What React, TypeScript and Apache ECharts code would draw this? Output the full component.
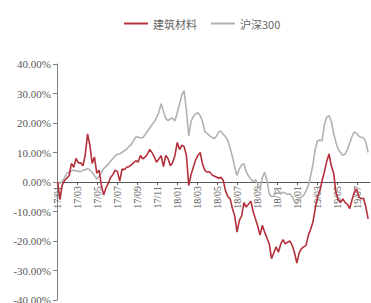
import React, { useEffect, useRef } from "react";
import * as echarts from "echarts";

// Weekly observations starting 2017-01-03
const startDate = "2017-01-03";
const seriesNames = ["建筑材料", "沪深300"];

const buildingMaterials = [
  0, -6, -1, 0.5, 1.3, 2.2, 6.3, 5, 8, 6.5,
  6.5, 5.5, 9.2, 16.3, 12.5, 6.3, 8.5, 3, 4, -1,
  -4.4, -2, -0.5, 1.5, 2.5, 4, 3.5, 0.3, 4.4, 4.2,
  5, 5.2, 5.8, 6.5, 7.2, 6.8, 9, 7.8, 8.4, 9.4,
  11, 10, 8.5, 6.7, 7.8, 8.9, 5.2, 9, 8, 5.5,
  6.5, 9, 13.4, 11, 12.5, 12, 8.9, -1.2, 2.5, 5,
  7.5, 9, 10, 6, 4, 3.3, 3.5, 2.5, 2, 1.7,
  1.3, 1.6, 0.5, -3, -5, -5.7, -9, -11.5, -17, -13,
  -11.5, -7, -8.5, -7.5, -6.5, -10, -12.5, -15, -18, -14.7,
  -17, -19, -21, -26, -24, -22, -23.8, -21, -19.5, -21,
  -20.4, -20, -21.5, -24, -27.5, -24, -22.6, -22, -21.5, -18.1,
  -16, -13.6, -9, -5, -3, 0.5, 3.5, 7, 9.5, 5.5,
  3, -3.5, -6, -6.9, -5.7, -7, -7.5, -9, -6, -3.5,
  -2.4, -5, -5.7, -5.5, -8.5, -12.5,
];

const csi300 = [
  0, -0.5, 0.3, 1.5, 3, 3.4, 3.8, 4, 3.8, 3.6,
  3.5, 4, 4.2, 4.5, 4, 3.3, 2.2, 1, 1.8, 3.2,
  4.5, 5.3, 6, 7, 8, 8.9, 9.3, 9.6, 10, 10.6,
  11.1, 12, 12.7, 14, 15.2, 15.2, 15, 15, 16, 17.2,
  18.3, 19.4, 20.4, 21.8, 23.7, 26.5, 24, 21.6, 20.8, 21.5,
  21.6, 20.7, 23.5, 26.5, 29.5, 31, 24, 15.6, 20.5, 22.2,
  23.1, 23.5, 22.5, 20.5, 17, 16.5, 15.7, 15.2, 14.7, 15.5,
  17, 17.2, 16.2, 15.4, 14, 11.5, 8.5, 5, 2.2, 4.5,
  5.8, 6.2, 3.5, 2, 1, 0, 0.8, -0.5, -2.5, 1.5,
  3.3, 0.5, -4, -5, -4.8, -2, -3, -4, -3.5, -3.8,
  -4.2, -4, -5, -6.5, -7.5, -6, -5, -4.5, -3, -1.2,
  2, 6, 11.1, 14, 14.2, 14, 19.5, 22, 22.5, 20.5,
  16.5, 13.5, 11.1, 10, 9, 9.5, 11, 13.2, 15.5, 17,
  16.5, 15.5, 15.2, 15, 13.5, 10,
];

const yTicks = [-40, -30, -20, -10, 0, 10, 20, 30, 40];

const MS_DAY = 86400000;
const MONTH_DAYS = 365.25 / 12;
const origin = Date.UTC(2017, 0, 1);
const start = Date.parse(startDate + "T00:00:00Z");
const monthIndex = (i: number) => (start + i * 7 * MS_DAY - origin) / MS_DAY / MONTH_DAYS;

const monthLabel = (m: number) => {
  const r = Math.round(m);
  const yy = 17 + Math.floor(r / 12);
  const mm = (r % 12) + 1;
  return `${yy}/${mm < 10 ? "0" + mm : mm}`;
};

const GRID_TOP = 64;
const GRID_BOTTOM = 3;
const HEIGHT = 303;

export default function App() {
  const ref = useRef<HTMLDivElement>(null);
  useEffect(() => {
    if (!ref.current) return;
    const chart = echarts.init(ref.current, null, { renderer: "svg" });
    const toPairs = (arr: number[]) => arr.map((v, i) => [monthIndex(i), v]);
    const plotH = HEIGHT - GRID_TOP - GRID_BOTTOM;
    const yMin = yTicks[0];
    const yMax = yTicks[yTicks.length - 1];
    const zeroFromBottom = (plotH * (0 - yMin)) / (yMax - yMin);
    chart.setOption({
      animation: false,
      legend: {
        top: 13,
        left: 119,
        itemWidth: 24,
        itemHeight: 2,
        itemGap: 14,
        icon: "rect",
        textStyle: { color: "#666", fontSize: 11, fontFamily: "Noto Sans CJK SC" },
        data: seriesNames,
      },
      grid: {
        left: 57,
        right: 1,
        top: GRID_TOP,
        bottom: GRID_BOTTOM,
        containLabel: false,
        outerBoundsMode: "none",
      },
      xAxis: {
        type: "value",
        min: 0,
        max: 31.3,
        interval: 2,
        offset: -zeroFromBottom,
        axisLine: { onZero: false, lineStyle: { color: "#595959", width: 1 } },
        axisTick: { show: true, length: 3, lineStyle: { color: "#595959" } },
        axisLabel: {
          rotate: 90,
          color: "#595959",
          fontSize: 10,
          fontFamily: "Liberation Serif",
          margin: 4,
          showMaxLabel: false,
          formatter: (v: number) => monthLabel(v),
        },
        splitLine: { show: false },
      },
      yAxis: {
        type: "value",
        min: yMin,
        max: yMax,
        interval: 10,
        axisLine: { show: true, lineStyle: { color: "#7f7f7f" } },
        axisTick: { show: true, length: 4, lineStyle: { color: "#7f7f7f" } },
        axisLabel: {
          color: "#595959",
          fontSize: 11,
          fontFamily: "Liberation Serif",
          margin: 6,
          formatter: (v: number) => v.toFixed(2) + "%",
        },
        splitLine: { show: false },
      },
      series: [
        {
          name: seriesNames[0],
          type: "line",
          data: toPairs(buildingMaterials),
          showSymbol: false,
          symbol: "none",
          lineStyle: { color: "#b3303b", width: 1.6 },
          itemStyle: { color: "#b3303b" },
          z: 3,
        },
        {
          name: seriesNames[1],
          type: "line",
          data: toPairs(csi300),
          showSymbol: false,
          symbol: "none",
          lineStyle: { color: "#b2b2b2", width: 1.6 },
          itemStyle: { color: "#b2b2b2" },
          z: 2,
        },
      ],
    });
    return () => chart.dispose();
  }, []);
  return (
    <div
      ref={ref}
      style={{ position: "fixed", left: 0, top: 0, width: 371, height: 303, background: "#fff" }}
    />
  );
}
